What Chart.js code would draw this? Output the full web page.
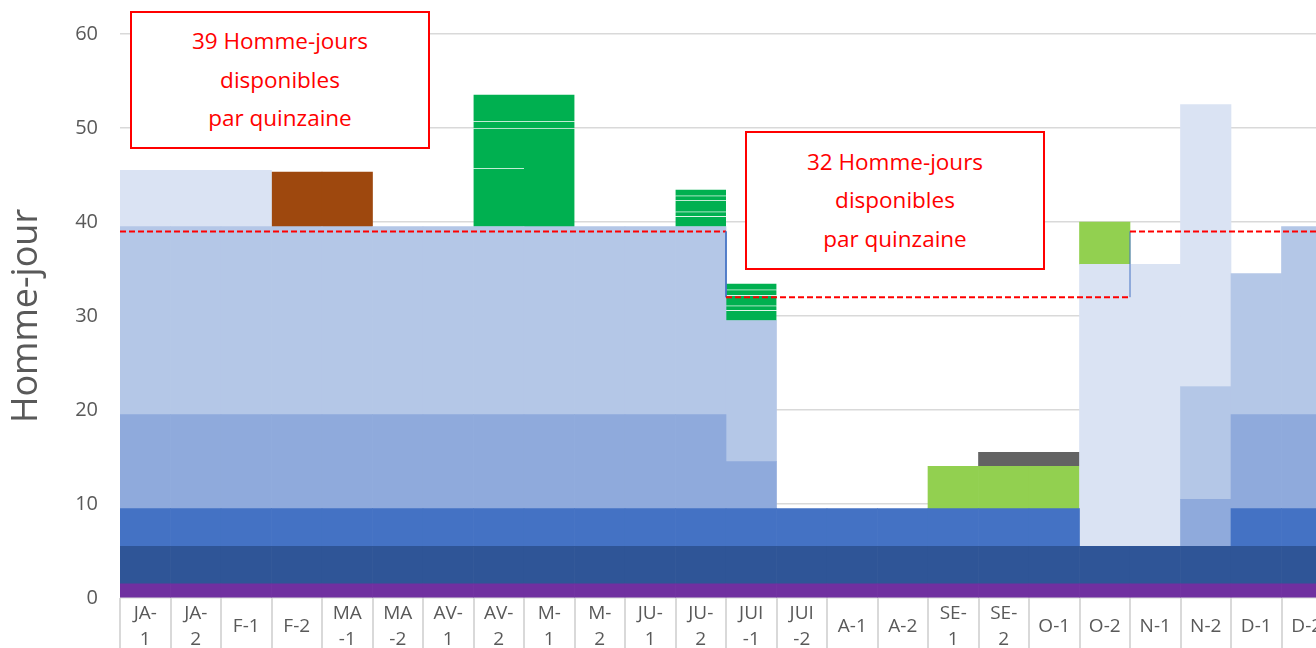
<!DOCTYPE html>
<html>
<head>
<meta charset="utf-8">
<script src="https://cdn.jsdelivr.net/npm/chart.js@4.4.1/dist/chart.umd.min.js"></script>
<style>
  html, body { margin: 0; padding: 0; background: #fff; overflow: hidden; }
  #wrap { position: relative; width: 1332px; height: 648px; }
  canvas { position: absolute; left: 0; top: 0; }
  .note {
    position: absolute; box-sizing: border-box; border: 2px solid #FF0000; background: #fff;
    color: #FF0000; font-family: "Open Sans", sans-serif; font-size: 22.5px; line-height: 38.5px;
    text-align: center; display: flex; align-items: center; justify-content: center;
  }
</style>
</head>
<body>
<div id="wrap">
  <canvas id="c" width="1332" height="648"></canvas>
  <div class="note" style="left:130px; top:11px; width:300px; height:138px;">39 Homme-jours<br>disponibles<br>par quinzaine</div>
  <div class="note" style="left:745px; top:131px; width:300px; height:139px;">32 Homme-jours<br>disponibles<br>par quinzaine</div>
</div>
<script>
const categories = ["JA-1","JA-2","F-1","F-2","MA-1","MA-2","AV-1","AV-2","M-1","M-2","JU-1","JU-2",
                    "JUI-1","JUI-2","A-1","A-2","SE-1","SE-2","O-1","O-2","N-1","N-2","D-1","D-2"];
const tickLabels = [["JA-","1"],["JA-","2"],"F-1","F-2",["MA","-1"],["MA","-2"],["AV-","1"],["AV-","2"],
                    ["M-","1"],["M-","2"],["JU-","1"],["JU-","2"],["JUI","-1"],["JUI","-2"],"A-1","A-2",
                    ["SE-","1"],["SE-","2"],"O-1","O-2","N-1","N-2","D-1","D-2"];
const yTicks = [0,10,20,30,40,50,60];

//                    JA1 JA2 F1  F2  MA1 MA2 AV1 AV2 M1  M2  JU1 JU2 JUI1 JUI2 A1 A2 SE1 SE2 O1  O2  N1  N2  D1  D2
const purple      = [1.5,1.5,1.5,1.5,1.5,1.5,1.5,1.5,1.5,1.5,1.5,1.5,1.5,1.5,1.5,1.5,1.5,1.5,1.5,1.5,1.5,1.5,1.5,1.5];
const darkBlue    = [4,4,4,4,4,4,4,4,4,4,4,4,4,4,4,4,4,4,4,4,4,4,4,4];
const blue        = [4,4,4,4,4,4,4,4,4,4,4,4,4,4,4,4,4,4,4,0,0,0,4,4];
const medBlue     = [10,10,10,10,10,10,10,10,10,10,10,10,5,0,0,0,0,0,0,0,0,5,10,10];
const lightBlue   = [20,20,20,20,20,20,20,20,20,20,20,20,15,0,0,0,0,0,0,0,0,12,15,20];
const paleBlue    = [6,6,6,0,0,0,0,0,0,0,0,0,0,0,0,0,0,0,0,30,30,30,0,0];
const brown       = [0,0,0,5.8,5.8,0,0,0,0,0,0,0,0,0,0,0,0,0,0,0,0,0,0,0];
const green1      = [0,0,0,0,0,0,0,6.2,10.5,0,0,1.1,1.1,0,0,0,0,0,0,0,0,0,0,0];
const green2      = [0,0,0,0,0,0,0,4.3,0,0,0,0.5,0.5,0,0,0,0,0,0,0,0,0,0,0];
const green3      = [0,0,0,0,0,0,0,0.7,0.7,0,0,1.2,1.1,0,0,0,0,0,0,0,0,0,0,0];
const green4      = [0,0,0,0,0,0,0,2.9,2.9,0,0,0.5,0.6,0,0,0,0,0,0,0,0,0,0,0];
const green5      = [0,0,0,0,0,0,0,0,0,0,0,0.7,0.7,0,0,0,0,0,0,0,0,0,0,0];
const lightGreen  = [0,0,0,0,0,0,0,0,0,0,0,0,0,0,0,0,4.5,4.5,4.5,4.5,0,0,0,0];
const darkGrey    = [0,0,0,0,0,0,0,0,0,0,0,0,0,0,0,0,0,1.5,1.5,0,0,0,0,0];

// capacity threshold (homme-jours disponibles par quinzaine), x in category-edge units
const capacityX = [0,12,12,20,20,24];
const capacityY = [39,39,32,32,39,39];

const nz = a => a.map(v => v === 0 ? null : v);
function bar(label, data, color, extra) {
  return Object.assign({
    type: 'bar', label, data: nz(data), backgroundColor: color, borderWidth: 0,
    grouped: false, order: 1, categoryPercentage: 1.0, barPercentage: 1.0
  }, extra || {});
}
const greenStyle = { borderWidth: {top: 1, left: 0, right: 0, bottom: 0}, borderColor: 'rgba(255,255,255,0.35)', borderSkipped: false };

Chart.defaults.font.family = '"Open Sans", sans-serif';

new Chart(document.getElementById('c'), {
  type: 'bar',
  data: {
    labels: categories,
    datasets: [
      bar('purple', purple, '#7030A0'),
      bar('darkBlue', darkBlue, '#2F5597'),
      bar('blue', blue, '#4472C4'),
      bar('medBlue', medBlue, '#8FAADC'),
      bar('lightBlue', lightBlue, '#B4C7E7'),
      bar('paleBlue', paleBlue, '#DAE3F3'),
      bar('brown', brown, '#9E480E'),
      bar('green1', green1, '#00B050', greenStyle),
      bar('green2', green2, '#00B050', greenStyle),
      bar('green3', green3, '#00B050', greenStyle),
      bar('green4', green4, '#00B050', greenStyle),
      bar('green5', green5, '#00B050', greenStyle),
      bar('lightGreen', lightGreen, '#92D050'),
      bar('darkGrey', darkGrey, '#636363'),
      {
        type: 'line', label: 'capacite', order: 0, xAxisID: 'xl', yAxisID: 'yl',
        data: capacityX.map((x, i) => ({x, y: capacityY[i]})),
        pointRadius: 0, fill: false, borderColor: '#FF0000', borderWidth: 2,
        segment: {
          borderColor: ctx => ctx.p0.parsed.x === ctx.p1.parsed.x ? '#4472C4' : '#FF0000',
          borderDash: ctx => ctx.p0.parsed.x === ctx.p1.parsed.x ? [] : [6, 3],
          borderWidth: ctx => ctx.p0.parsed.x === ctx.p1.parsed.x ? 1 : 2
        }
      }
    ]
  },
  options: {
    responsive: false, animation: false, devicePixelRatio: 1,
    layout: { padding: { top: 34, left: 0, right: 0, bottom: 0 } },
    plugins: { legend: { display: false }, tooltip: { enabled: false } },
    scales: {
      x: {
        type: 'category', stacked: true, offset: true,
        border: { display: false },
        grid: { offset: true, drawOnChartArea: false, drawTicks: true, tickLength: 50, color: '#D9D9D9', lineWidth: 2 },
        ticks: {
          autoSkip: false, maxRotation: 0, minRotation: 0, padding: -34, crossAlign: 'center',
          color: '#595959', font: { size: 19, lineHeight: 26/19 },
          callback: (v, i) => tickLabels[i]
        },
        afterFit: s => { s.height = 50; }
      },
      y: {
        stacked: true, min: 0, max: 60,
        border: { display: false },
        grid: { color: '#D9D9D9', lineWidth: 1.5, drawTicks: false },
        afterBuildTicks: s => { s.ticks = yTicks.map(v => ({ value: v })); },
        ticks: { padding: 22, color: '#595959', font: { size: 20 } },
        title: { display: true, text: 'Homme-jour', color: '#595959', font: { size: 36 }, padding: { top: 5, bottom: 0 } },
        afterFit: s => { s.width = 120; }
      },
      xl: { type: 'linear', display: false, min: 0, max: 24, offset: false },
      yl: { type: 'linear', display: false, min: 0, max: 60 }
    }
  }
});
</script>
</body>
</html>
